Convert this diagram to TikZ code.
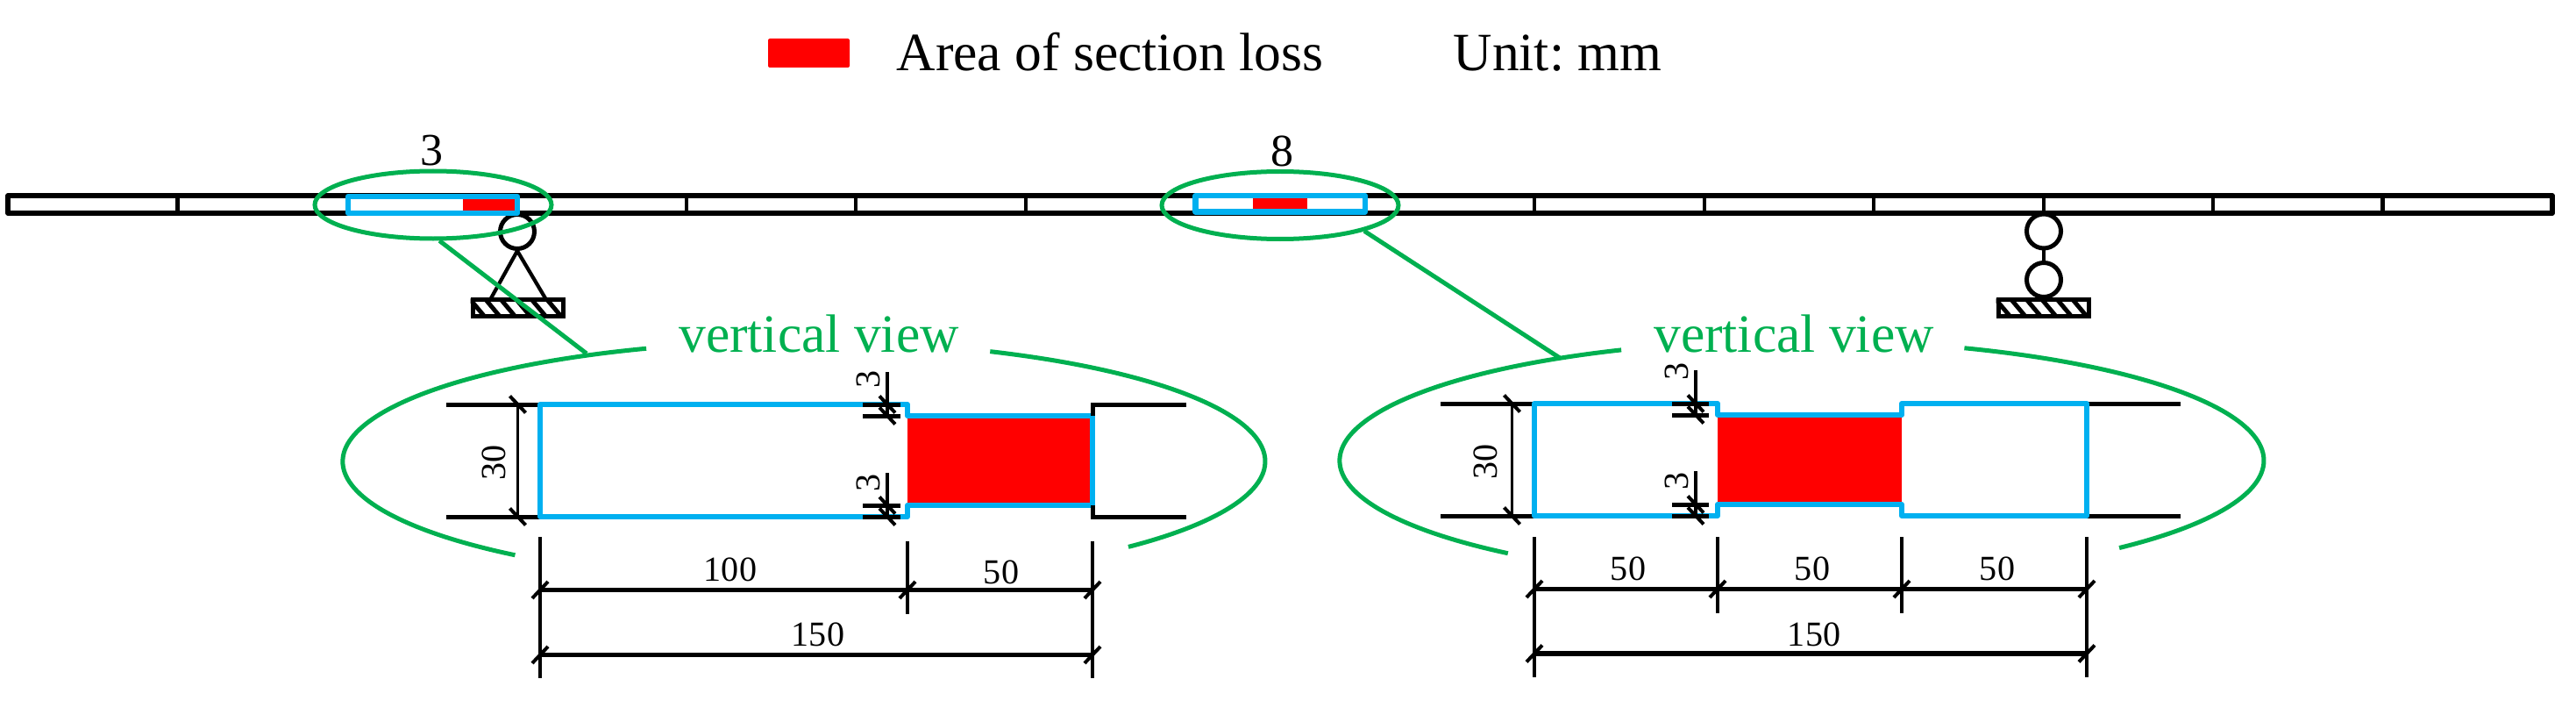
\documentclass[tikz,border=0pt]{standalone}
\usepackage{fontspec}
\setmainfont{Liberation Serif}
\usetikzlibrary{shapes.geometric}
\definecolor{lensgreen}{HTML}{00B050}
\definecolor{boxblue}{HTML}{00B0F0}
\tikzset{
  beam/.style={draw, line width=0.055cm, line join=round},
  divider/.style={line width=0.042cm},
  boxline/.style={draw=boxblue, line width=0.062cm, line join=round},
  lossfill/.style={fill=red, draw=none},
  lens/.style={ellipse, draw=lensgreen, line width=0.05cm, minimum width=2.7cm, minimum height=0.77cm, inner sep=0pt},
  lensline/.style={draw=lensgreen, line width=0.05cm},
  joint/.style={circle, draw, line width=0.05cm, minimum size=0.39cm, inner sep=0pt},
  ground/.style={rectangle, draw, line width=0.05cm, minimum width=1.03cm, minimum height=0.19cm, inner sep=0pt},
  leg/.style={line width=0.042cm},
  stub/.style={line width=0.05cm},
  ext/.style={line width=0.036cm},
  dimline/.style={line width=0.052cm},
  dimthin/.style={line width=0.036cm},
  tick/.style={line width=0.04cm},
  dimtext/.style={font=\fontsize{11.4}{13}\selectfont, inner sep=0pt},
  bigtext/.style={font=\fontsize{17.5}{20}\selectfont, inner sep=0pt},
  numtext/.style={font=\fontsize{14.8}{17}\selectfont, inner sep=0pt}
}
\begin{document}
\begin{tikzpicture}
\useasboundingbox (0,0) rectangle (29.38,8.22);

% legend
\fill[red, rounded corners=0.02cm] (8.76,7.45) rectangle (9.69,7.78);
\node[bigtext, anchor=base west] (legend) at (10.22,7.41) {Area of section loss};
\node[bigtext, anchor=base west] (unit) at (16.57,7.41) {Unit:\ mm};

% supports
\node[joint] (cir1) at (5.90,5.58) {};
\node[ground] (gnd1) at (5.905,4.715) {};
\coordinate (leg1) at (5.60,4.82);
\coordinate (leg2) at (6.22,4.82);
\draw[leg] (cir1.south) -- (leg1);
\draw[leg] (cir1.south) -- (leg2);
\node[joint] (cir2) at (23.31,5.585) {};
\node[joint] (cir3) at (23.31,5.03) {};
\node[ground] (gnd2) at (23.305,4.715) {};
\draw[leg] (cir2) -- (cir3);
\foreach \g in {gnd1,gnd2}{
  \begin{scope}
    \clip (\g.south west) rectangle (\g.north east);
    \foreach \s in {-0.545,-0.37,-0.195,-0.02,0.155,0.33,0.505}
      \draw[line width=0.05cm] (\g.center) ++(\s,0.095) -- ++(0.16,-0.19);
  \end{scope}
}

% beam
\draw[beam] (0.09,5.79) rectangle (29.11,5.99);
\foreach \i in {1,...,14}{
  \pgfmathsetmacro{\bx}{0.09+1.9347*\i}
  \draw[divider] (\bx,5.79) -- (\bx,5.99);
}

% damaged elements
\draw[boxline, fill=white] (3.97,5.79) rectangle (5.90,5.983);
\fill[lossfill] (5.28,5.82) rectangle (5.87,5.953);
\draw[boxline, fill=white] (13.635,5.805) rectangle (15.57,5.99);
\fill[lossfill] (14.29,5.835) rectangle (14.91,5.96);
\node[numtext] (n3) at (4.92,6.50) {3};
\node[numtext] (n8) at (14.62,6.50) {8};

% lenses
\node[lens] (ella) at (4.94,5.885) {};
\node[lens] (ellb) at (14.60,5.88) {};
\coordinate (lensa) at (9.17,2.96);
\coordinate (lensb) at (20.55,2.97);
\coordinate (enda) at (6.69,4.19);
\coordinate (endb) at (17.79,4.14);
\draw[lensline] (ella.-80) -- (enda);
\draw[lensline] (ellb.-17) -- (endb);
\draw[lensline] ([shift={(110:5.26 and 1.37)}]lensa) arc[start angle=110, end angle=231.2, x radius=5.26, y radius=1.37];
\draw[lensline] ([shift={(-45.3:5.26 and 1.37)}]lensa) arc[start angle=-45.3, end angle=66.2, x radius=5.26, y radius=1.37];
\draw[lensline] ([shift={(113:5.27 and 1.37)}]lensb) arc[start angle=113, end angle=230.5, x radius=5.27, y radius=1.37];
\draw[lensline] ([shift={(-46.6:5.27 and 1.37)}]lensb) arc[start angle=-46.6, end angle=69.4, x radius=5.27, y radius=1.37];
\node[bigtext, text=lensgreen, anchor=base] (viewa) at (9.34,4.205) {vertical view};
\node[bigtext, text=lensgreen, anchor=base] (viewb) at (20.46,4.21) {vertical view};

% left detail
\coordinate (pa1) at (6.16,3.61);
\coordinate (pa2) at (10.35,3.61);
\coordinate (pa3) at (10.35,3.48);
\coordinate (pa4) at (12.46,3.48);
\coordinate (pa5) at (12.46,2.46);
\coordinate (pa6) at (10.35,2.46);
\coordinate (pa7) at (10.35,2.33);
\coordinate (pa8) at (6.16,2.33);
\fill[lossfill] (10.35,2.49) rectangle (12.45,3.45);
\coordinate (sa1) at (5.085,3.61);
\coordinate (sa2) at (5.085,2.33);
\coordinate (sa3) at (13.53,3.61);
\coordinate (sa4) at (13.53,2.33);
\draw[stub] (sa1) -- (pa1);
\draw[stub] (sa2) -- (pa8);
\draw[boxline] (pa1) -- (pa2) -- (pa3) -- (pa4) -- (pa5) -- (pa6) -- (pa7) -- (pa8) -- cycle;
\draw[stub] (sa3) -- (12.46,3.61) -- (pa4);
\draw[stub] (sa4) -- (12.46,2.33) -- (pa5);

% left detail, small dimensions
\coordinate (va1) at (5.905,3.61);
\coordinate (va2) at (5.905,2.33);
\draw[dimthin] (va1) -- (va2);
\node[dimtext, rotate=90] (t30a) at (5.63,2.95) {30};
\draw[stub] (9.84,3.61) -- (10.27,3.61);
\draw[stub] (9.84,3.48) -- (10.27,3.48);
\draw[stub] (9.84,2.46) -- (10.27,2.46);
\draw[stub] (9.84,2.33) -- (10.27,2.33);
\coordinate (ta1) at (10.12,3.61);
\coordinate (ta2) at (10.12,3.48);
\coordinate (ta3) at (10.12,2.46);
\coordinate (ta4) at (10.12,2.33);
\draw[dimthin] (10.12,3.98) -- (ta2);
\draw[dimthin] (10.12,2.83) -- (ta4);
\node[dimtext, rotate=90] (t3a) at (9.90,3.90) {3};
\node[dimtext, rotate=90] (t3b) at (9.90,2.72) {3};
\foreach \p in {va1,va2,ta1,ta2,ta3,ta4}
  \draw[tick] (\p) +(-0.09,0.095) -- +(0.09,-0.095);

% left detail, lengths
\coordinate (da1) at (6.16,1.495);
\coordinate (da2) at (10.35,1.495);
\coordinate (da3) at (12.46,1.495);
\coordinate (da4) at (6.16,0.755);
\coordinate (da5) at (12.46,0.755);
\draw[ext] (6.16,2.10) -- (6.16,0.49);
\draw[ext] (10.35,2.05) -- (10.35,1.22);
\draw[ext] (12.46,2.05) -- (12.46,0.49);
\draw[dimline] (da1) -- (da3);
\draw[dimline] (da4) -- (da5);
\node[dimtext] (t100) at (8.33,1.73) {100};
\node[dimtext] (t50a) at (11.42,1.70) {50};
\node[dimtext] (t150a) at (9.33,0.99) {150};
\foreach \p in {da1,da2,da3,da4,da5}
  \draw[tick] (\p) +(-0.09,-0.095) -- +(0.09,0.095);

% right detail
\coordinate (pb1) at (17.50,3.62);
\coordinate (pb2) at (19.59,3.62);
\coordinate (pb3) at (19.59,3.49);
\coordinate (pb4) at (21.69,3.49);
\coordinate (pb5) at (21.69,3.62);
\coordinate (pb6) at (23.80,3.62);
\coordinate (pb7) at (23.80,2.34);
\coordinate (pb8) at (21.69,2.34);
\coordinate (pb9) at (21.69,2.47);
\coordinate (pb10) at (19.59,2.47);
\coordinate (pb11) at (19.59,2.34);
\coordinate (pb12) at (17.50,2.34);
\fill[lossfill] (19.59,2.50) rectangle (21.69,3.46);
\coordinate (sb1) at (16.43,3.62);
\coordinate (sb2) at (16.43,2.34);
\coordinate (sb3) at (24.87,3.62);
\coordinate (sb4) at (24.87,2.34);
\draw[stub] (sb1) -- (pb1);
\draw[stub] (sb2) -- (pb12);
\draw[stub] (sb3) -- (pb6);
\draw[stub] (sb4) -- (pb7);
\draw[boxline] (pb1) -- (pb2) -- (pb3) -- (pb4) -- (pb5) -- (pb6) -- (pb7) -- (pb8) -- (pb9) -- (pb10) -- (pb11) -- (pb12) -- cycle;

% right detail, small dimensions
\coordinate (vb1) at (17.245,3.62);
\coordinate (vb2) at (17.245,2.34);
\draw[dimthin] (vb1) -- (vb2);
\node[dimtext, rotate=90] (t30b) at (16.94,2.96) {30};
\draw[stub] (19.07,3.62) -- (19.49,3.62);
\draw[stub] (19.07,3.49) -- (19.49,3.49);
\draw[stub] (19.07,2.47) -- (19.49,2.47);
\draw[stub] (19.07,2.34) -- (19.49,2.34);
\coordinate (tb1) at (19.34,3.62);
\coordinate (tb2) at (19.34,3.49);
\coordinate (tb3) at (19.34,2.47);
\coordinate (tb4) at (19.34,2.34);
\draw[dimthin] (19.34,4.00) -- (tb2);
\draw[dimthin] (19.34,2.85) -- (tb4);
\node[dimtext, rotate=90] (t3c) at (19.12,3.99) {3};
\node[dimtext, rotate=90] (t3d) at (19.12,2.74) {3};
\foreach \p in {vb1,vb2,tb1,tb2,tb3,tb4}
  \draw[tick] (\p) +(-0.09,0.095) -- +(0.09,-0.095);

% right detail, lengths
\coordinate (db1) at (17.50,1.505);
\coordinate (db2) at (19.59,1.505);
\coordinate (db3) at (21.69,1.505);
\coordinate (db4) at (23.80,1.505);
\coordinate (db5) at (17.50,0.77);
\coordinate (db6) at (23.80,0.77);
\draw[ext] (17.50,2.10) -- (17.50,0.50);
\draw[ext] (19.59,2.10) -- (19.59,1.23);
\draw[ext] (21.69,2.10) -- (21.69,1.23);
\draw[ext] (23.80,2.10) -- (23.80,0.50);
\draw[dimline] (db1) -- (db4);
\draw[dimline] (db5) -- (db6);
\node[dimtext] (t50b) at (18.57,1.74) {50};
\node[dimtext] (t50c) at (20.67,1.74) {50};
\node[dimtext] (t50d) at (22.78,1.74) {50};
\node[dimtext] (t150b) at (20.69,0.99) {150};
\foreach \p in {db1,db2,db3,db4,db5,db6}
  \draw[tick] (\p) +(-0.09,-0.095) -- +(0.09,0.095);
\end{tikzpicture}
\end{document}
